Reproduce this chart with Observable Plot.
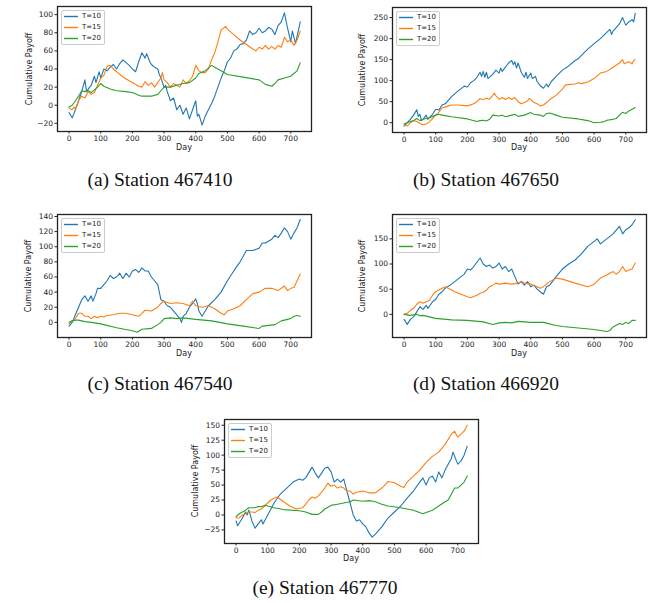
<!DOCTYPE html>
<html><head><meta charset="utf-8">
<script src="https://cdn.jsdelivr.net/npm/d3@7"></script>
<script src="https://cdn.jsdelivr.net/npm/@observablehq/plot@0.6"></script>
<style>
body{margin:0;background:#fff;}
#page{position:relative;width:655px;height:603px;overflow:hidden;font-family:"DejaVu Sans",sans-serif;color:#222;}
.box{position:absolute;}
.ylab{position:absolute;font-size:8px;transform:translate(-50%,-50%) rotate(-90deg);white-space:nowrap;}
.xlab{position:absolute;font-size:8px;transform:translate(-50%,-50%);white-space:nowrap;}
.cap{position:absolute;font-family:"Liberation Serif","Times New Roman",serif;font-size:19.5px;color:#111;transform:translate(-50%,-50%);white-space:nowrap;}
.legend{position:absolute;border:1px solid #ccc;border-radius:2px;background:rgba(255,255,255,0.85);padding:0 3px 0 2px;box-sizing:border-box;}
.legend .row{display:flex;align-items:center;height:11px;line-height:11px;font-size:7px;}
.legend svg{display:block;margin-right:4px;}
</style></head>
<body><div id="page"></div>
<script>
const labels = ["T=10","T=15","T=20"];
const colors = ["#1f77b4","#ff7f0e","#2ca02c"];
const xTicks = [0,100,200,300,400,500,600,700];
const yTicksA = [-20,0,20,40,60,80,100];
const yTicksB = [0,50,100,150,200,250];
const yTicksC = [0,20,40,60,80,100,120,140];
const yTicksD = [0,50,100,150];
const yTicksE = [-25,0,25,50,75,100,125,150];
const captions = ["(a) Station 467410","(b) Station 467650","(c) Station 467540","(d) Station 466920","(e) Station 467770"];

const a10 = [[0,-8],[10,-14],[20,-5],[30,5],[40,15],[50,28],[55,15],[65,20],[70,22],[80,32],[85,25],[95,37],[100,30],[110,40],[120,38],[130,42],[140,45],[150,40],[160,46],[170,50],[180,47],[190,44],[200,40],[210,37],[220,48],[230,58],[240,52],[245,57],[255,48],[260,45],[270,42],[280,40],[285,34],[290,30],[300,20],[305,22],[310,15],[320,5],[330,8],[340,-5],[350,0],[360,-10],[370,-3],[380,-15],[390,-5],[400,5],[405,-12],[410,-10],[420,-22],[430,-12],[440,-5],[450,2],[460,10],[470,20],[480,30],[490,38],[500,48],[510,52],[520,60],[530,62],[540,67],[550,68],[560,72],[570,82],[580,78],[590,80],[600,85],[610,80],[620,82],[630,86],[640,84],[650,78],[660,88],[670,92],[680,102],[690,85],[700,70],[705,82],[715,68],[730,92]];
const a15 = [[0,-3],[10,-5],[15,-2],[20,-4],[30,5],[40,10],[50,8],[60,15],[70,12],[80,14],[90,22],[100,30],[110,33],[120,43],[130,44],[140,40],[160,34],[180,29],[200,25],[220,21],[230,20],[240,26],[250,22],[260,25],[270,20],[280,25],[290,30],[295,36],[300,28],[310,25],[320,20],[330,24],[340,22],[350,20],[360,28],[370,24],[380,27],[390,32],[400,44],[410,38],[420,36],[430,36],[440,40],[450,50],[460,58],[470,70],[480,83],[495,87],[500,84],[520,78],[540,72],[560,67],[580,62],[590,60],[600,64],[610,62],[620,66],[630,62],[640,65],[650,62],[660,66],[670,64],[680,75],[690,70],[700,72],[710,66],[720,72],[730,82]];
const a20 = [[0,-2],[10,0],[20,5],[30,10],[40,16],[50,15],[60,16],[70,14],[80,17],[90,20],[100,24],[110,21],[130,18],[150,16],[180,15],[200,14],[220,11],[230,10],[260,10],[280,12],[290,16],[300,20],[320,20],[340,22],[360,24],[380,25],[400,30],[410,35],[430,38],[450,44],[460,42],[480,38],[500,34],[550,31],[600,28],[620,23],[640,21],[650,24],[660,28],[680,30],[700,32],[710,35],[720,38],[730,47]];

const b10 = [[0,-8],[10,0],[20,8],[30,18],[40,31],[45,15],[50,20],[55,5],[60,8],[70,18],[75,8],[80,12],[90,20],[100,32],[110,30],[120,42],[130,45],[150,62],[170,75],[190,87],[200,85],[210,95],[220,100],[230,108],[240,120],[245,110],[250,122],[255,108],[260,120],[265,105],[280,115],[290,125],[300,118],[305,130],[310,122],[320,132],[330,142],[340,148],[345,138],[350,145],[355,130],[360,142],[370,120],[380,108],[385,120],[390,105],[400,118],[405,105],[415,110],[420,98],[430,88],[440,82],[450,92],[455,85],[465,98],[480,110],[500,125],[520,135],[540,148],[550,152],[560,160],[580,175],[600,188],[620,200],[640,215],[650,222],[655,210],[660,218],[680,235],[690,250],[700,232],[710,240],[720,245],[725,240],[730,260]];
const b15 = [[0,-5],[10,-8],[20,0],[30,5],[40,3],[50,-2],[60,-5],[70,-3],[80,2],[90,10],[100,18],[110,25],[120,35],[140,40],[150,42],[170,42],[200,40],[220,45],[230,50],[240,57],[250,55],[260,58],[270,56],[280,65],[285,70],[290,64],[300,56],[310,60],[320,55],[330,60],[340,55],[350,60],[360,50],[370,45],[380,48],[390,52],[395,58],[400,55],[410,48],[420,45],[430,40],[440,42],[450,48],[460,55],[480,65],[500,80],[510,90],[540,92],[550,95],[560,93],[580,97],[600,105],[620,118],[640,122],[660,132],[680,142],[690,150],[695,140],[710,145],[720,140],[725,148],[730,150]];
const b20 = [[0,-3],[10,0],[20,3],[30,5],[40,10],[50,5],[60,8],[70,10],[80,12],[100,18],[110,20],[120,18],[150,14],[200,9],[230,3],[240,5],[250,6],[260,4],[270,8],[280,18],[300,16],[310,18],[320,14],[340,18],[350,20],[360,15],[380,18],[400,24],[410,20],[430,18],[440,15],[450,22],[460,23],[480,18],[500,13],[550,9],[580,5],[600,0],[620,1],[630,2],[640,6],[660,8],[670,10],[680,18],[690,25],[700,22],[710,28],[720,32],[730,36]];

const c10 = [[0,-5],[10,0],[20,10],[30,20],[40,30],[50,35],[60,28],[70,35],[75,28],[85,38],[90,45],[100,45],[110,50],[120,55],[130,62],[140,58],[150,60],[160,65],[170,58],[180,65],[190,60],[200,68],[210,70],[220,66],[230,72],[240,68],[250,68],[260,60],[270,55],[280,50],[285,40],[290,30],[300,28],[310,22],[320,20],[330,15],[340,10],[350,5],[355,0],[360,8],[370,12],[380,20],[390,25],[400,31],[405,25],[410,15],[420,8],[430,15],[440,22],[460,30],[480,40],[500,55],[520,68],[540,80],[560,95],[580,95],[600,98],[610,105],[620,105],[640,110],[650,115],[660,112],[670,118],[680,125],[690,120],[700,110],[710,118],[720,125],[730,136]];
const c15 = [[0,-2],[10,2],[20,5],[30,12],[40,12],[50,8],[60,8],[70,5],[80,8],[90,6],[100,8],[110,7],[120,9],[140,10],[160,12],[180,12],[200,10],[220,8],[230,12],[240,16],[260,15],[280,20],[290,25],[300,28],[320,25],[340,26],[360,25],[380,22],[390,28],[400,22],[420,20],[440,22],[460,18],[480,12],[490,10],[500,15],[520,18],[540,22],[560,30],[580,38],[600,40],[620,45],[640,45],[660,42],[680,48],[690,42],[700,45],[710,46],[720,55],[730,64]];
const c20 = [[0,0],[10,2],[20,3],[30,3],[50,1],[70,0],[100,-2],[150,-7],[200,-11],[215,-13],[230,-9],[260,-8],[280,-3],[290,0],[300,5],[320,6],[340,5],[360,6],[380,5],[400,4],[450,2],[500,-2],[550,-5],[600,-8],[610,-5],[630,-4],[650,-3],[670,2],[690,4],[700,5],[710,8],[720,9],[730,8]];

const d10 = [[0,-10],[10,-20],[20,-10],[30,-5],[40,5],[50,15],[60,10],[70,18],[75,12],[90,25],[100,30],[110,40],[120,45],[130,52],[150,60],[170,70],[190,80],[200,90],[210,88],[220,95],[240,112],[250,100],[260,95],[270,98],[280,92],[290,95],[300,102],[310,90],[320,95],[330,85],[340,90],[350,75],[360,60],[370,65],[380,58],[390,65],[400,55],[410,58],[420,50],[430,45],[440,40],[450,55],[460,58],[480,75],[500,90],[520,100],[540,108],[560,120],[580,135],[600,145],[610,150],[620,140],[640,150],[660,160],[680,175],[690,160],[700,168],[710,172],[720,178],[730,188]];
const d15 = [[0,0],[10,2],[20,8],[30,12],[40,20],[50,25],[60,22],[70,25],[80,28],[90,38],[100,45],[120,52],[130,55],[140,52],[160,45],[180,40],[200,35],[210,33],[230,38],[240,42],[250,44],[260,48],[270,55],[280,58],[290,62],[300,60],[320,62],[340,60],[360,62],[370,66],[380,62],[400,60],[420,55],[430,52],[440,55],[460,65],[480,72],[500,70],[540,62],[580,55],[600,60],[620,72],[640,78],[660,85],[670,80],[680,85],[690,95],[700,85],[710,88],[720,90],[730,102]];
const d20 = [[0,0],[20,-2],[40,0],[50,-3],[60,-2],[80,-5],[100,-8],[150,-11],[200,-12],[250,-15],[280,-20],[300,-17],[320,-16],[340,-17],[360,-14],[380,-15],[400,-16],[440,-16],[480,-22],[500,-24],[550,-27],[600,-30],[640,-34],[650,-32],[660,-25],[680,-18],[690,-20],[700,-16],[710,-18],[720,-12],[730,-12]];

const e10 = [[0,-10],[5,-18],[20,-5],[30,5],[35,0],[40,8],[45,0],[50,-10],[60,-22],[70,-15],[80,-8],[85,-15],[100,0],[110,10],[120,20],[140,35],[160,45],[180,55],[200,60],[210,58],[220,62],[240,80],[250,70],[260,62],[270,70],[280,78],[290,80],[300,72],[310,55],[320,60],[330,55],[340,60],[350,40],[360,20],[370,0],[380,-10],[390,-8],[400,-15],[410,-20],[420,-30],[430,-37],[440,-32],[460,-20],[480,-5],[500,5],[520,15],[540,28],[560,40],[580,55],[590,62],[600,50],[610,62],[620,65],[630,55],[640,72],[650,62],[660,75],[680,95],[685,105],[700,85],[710,90],[720,100],[730,115]];
const e15 = [[0,-5],[10,-5],[20,0],[30,2],[40,5],[50,5],[60,4],[70,8],[80,10],[90,15],[100,20],[110,25],[120,28],[130,30],[150,22],[170,15],[190,10],[210,12],[220,18],[230,25],[240,30],[250,28],[260,32],[270,38],[280,45],[290,53],[300,48],[310,50],[320,45],[330,47],[340,45],[350,40],[360,40],[370,35],[380,38],[400,40],[420,37],[440,37],[460,45],[470,50],[480,56],[500,54],[520,48],[530,46],[540,55],[560,65],[580,75],[600,88],[620,98],[640,105],[660,118],[680,135],[690,140],[700,130],[710,135],[720,140],[730,150]];
const e20 = [[0,-3],[10,2],[20,5],[30,8],[40,12],[60,12],[70,14],[80,14],[90,16],[100,15],[120,12],[150,9],[200,7],[220,5],[240,1],[260,1],[270,5],[280,10],[300,16],[320,18],[340,20],[360,22],[370,25],[400,23],[420,24],[440,22],[460,18],[480,15],[520,12],[560,8],[590,2],[600,4],[620,8],[640,15],[660,22],[670,25],[680,35],[690,45],[700,45],[710,50],[720,55],[730,65]];

// layout: frame = [left,right,top,bottom] in page px; box = [x,y,w,h]
const panels = [
  {series:[a10,a15,a20], yDomain:[-29,109], yTicks:yTicksA, frame:[57,311,6,131], box:[0,0,327,165], ylabX:29, dayY:147, capX:160, capY:180, cap:captions[0]},
  {series:[b10,b15,b20], yDomain:[-23.3,274], yTicks:yTicksB, frame:[392,646,7,132], box:[327,0,328,165], ylabX:362, dayY:147, capX:486, capY:180, cap:captions[1]},
  {series:[c10,c15,c20], yDomain:[-20,142.6], yTicks:yTicksC, frame:[57,311,214,337], box:[0,200,327,165], ylabX:28, dayY:353, capX:160, capY:384, cap:captions[2]},
  {series:[d10,d15,d20], yDomain:[-46,198.4], yTicks:yTicksD, frame:[392,646,214,337], box:[327,200,328,165], ylabX:362, dayY:353, capX:486, capY:384, cap:captions[3]},
  {series:[e10,e15,e20], yDomain:[-47.7,159.6], yTicks:yTicksE, frame:[224,478,419,543], box:[170,405,330,160], ylabX:195, dayY:558, capX:325, capY:588, cap:captions[4]}
];

const page = document.getElementById("page");
const fmt = d => d < 0 ? "\u2212" + Math.abs(d) : String(d);
const NS = "http://www.w3.org/2000/svg";

for (const p of panels) {
  const [l,r,t,b] = p.frame;
  const [bx,by,bw,bh] = p.box;
  const data = p.series.flatMap((s,i) => s.map(([d,v]) => ({day:d, value:v, T:labels[i]})));
  const svg = Plot.plot({
    width: bw, height: bh,
    marginLeft: l - bx, marginRight: bx + bw - r, marginTop: t - by, marginBottom: by + bh - b,
    x: {domain:[-36.5,765.5], ticks:xTicks, tickSize:2.5, tickPadding:1.5, label:null, tickFormat:fmt},
    y: {domain:p.yDomain, ticks:p.yTicks, tickSize:2.5, tickPadding:2, label:null, tickFormat:fmt},
    color: {domain:labels, range:colors},
    style: {background:"transparent", fontFamily:"DejaVu Sans", fontSize:"7.5px", color:"#222", overflow:"visible"},
    marks: [
      Plot.line(data, {x:"day", y:"value", stroke:"T", strokeWidth:1.1}),
      Plot.frame({stroke:"#222", strokeWidth:1.3})
    ]
  });
  const holder = document.createElement("div");
  holder.className = "box";
  holder.style.left = bx + "px"; holder.style.top = by + "px";
  holder.appendChild(svg);
  page.appendChild(holder);

  const yl = document.createElement("div");
  yl.className = "ylab"; yl.textContent = "Cumulative Payoff";
  yl.style.left = p.ylabX + "px"; yl.style.top = ((t + b) / 2) + "px";
  page.appendChild(yl);

  const xl = document.createElement("div");
  xl.className = "xlab"; xl.textContent = "Day";
  xl.style.left = ((l + r) / 2) + "px"; xl.style.top = p.dayY + "px";
  page.appendChild(xl);

  const lg = document.createElement("div");
  lg.className = "legend";
  lg.style.left = (l + 4) + "px"; lg.style.top = (t + 4) + "px";
  lg.style.width = "44px";
  labels.forEach((lab,i) => {
    const row = document.createElement("div"); row.className = "row";
    const sw = document.createElementNS(NS, "svg");
    sw.setAttribute("width", "15"); sw.setAttribute("height", "11");
    const ln = document.createElementNS(NS, "line");
    ln.setAttribute("x1", "0"); ln.setAttribute("x2", "15");
    ln.setAttribute("y1", "5.5"); ln.setAttribute("y2", "5.5");
    ln.setAttribute("stroke", colors[i]); ln.setAttribute("stroke-width", "1.4");
    sw.appendChild(ln);
    const tx = document.createElement("span"); tx.textContent = lab;
    row.appendChild(sw); row.appendChild(tx); lg.appendChild(row);
  });
  page.appendChild(lg);

  const cp = document.createElement("div");
  cp.className = "cap"; cp.textContent = p.cap;
  cp.style.left = p.capX + "px"; cp.style.top = p.capY + "px";
  page.appendChild(cp);
}
</script></body></html>
